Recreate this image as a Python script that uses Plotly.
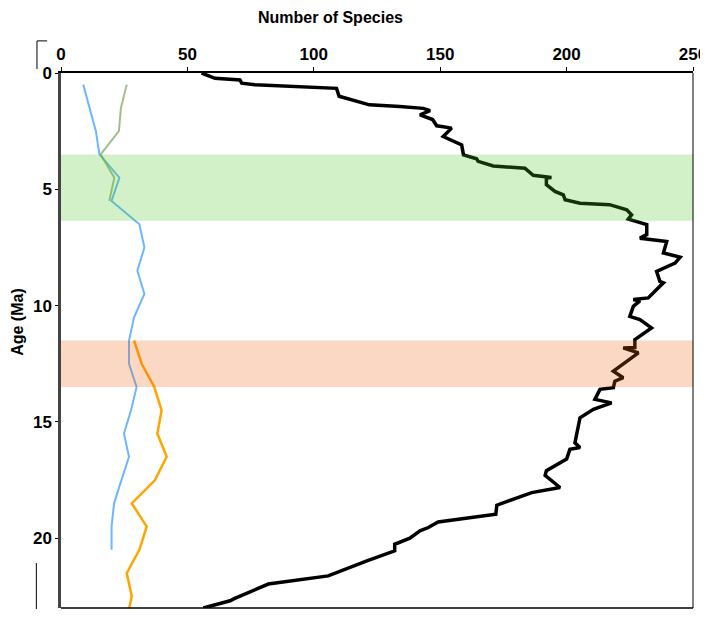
import plotly.graph_objects as go

# Total species (black)
total_age = [0.0, 0.23, 0.3, 0.44, 0.5, 0.66, 1.0, 1.16, 1.37, 1.44, 1.52, 1.62, 1.8, 2.0, 2.27, 2.3,
             2.37, 2.73, 2.95, 3.09, 3.52, 3.59, 3.69, 3.8, 4.0, 4.09, 4.4, 4.49, 4.52, 4.8, 5.09,
             5.24, 5.45, 5.6, 5.66, 5.88, 6.1, 6.28, 6.52, 6.95, 7.1, 7.24, 7.74, 7.88, 7.92, 8.17,
             8.53, 8.96, 9.02, 9.31, 9.67, 9.74, 9.8, 10.03, 10.46, 10.6, 10.96, 11.46, 11.8, 11.82,
             12.03, 12.82, 13.1, 13.25, 13.53, 13.6, 14.03, 14.18, 14.46, 14.82, 15.9, 16.1, 16.18,
             16.6, 17.1, 17.3, 17.82, 18.04, 18.58, 18.97, 19.0, 19.3, 19.54, 19.68, 20.0, 20.26,
             20.54, 20.97, 21.62, 21.97, 22.6, 22.69, 23.0]
total_val = [55.6, 60.9, 70.8, 71.5, 76.7, 109.0, 110.0, 115.5, 122.0, 134.0, 143.3, 146.0, 142.0,
             147.0, 148.6, 150.6, 154.5, 151.2, 155.2, 158.5, 159.2, 161.8, 164.4, 165.0, 171.0,
             183.5, 186.8, 194.0, 192.0, 192.0, 195.4, 198.7, 199.4, 205.3, 217.0, 223.8, 225.7,
             224.4, 231.7, 231.7, 229.0, 239.6, 238.3, 243.5, 244.9, 242.9, 235.6, 236.9, 238.3,
             235.6, 232.3, 226.4, 229.0, 226.4, 225.0, 229.0, 233.6, 227.0, 227.0, 222.4, 228.4,
             218.5, 222.4, 219.1, 218.5, 213.2, 211.2, 217.8, 210.6, 205.3, 203.3, 205.3, 201.3,
             200.0, 192.0, 191.5, 197.4, 186.2, 172.4, 172.0, 170.0, 149.2, 145.3, 142.0, 138.0,
             132.0, 132.0, 121.0, 105.7, 82.0, 68.5, 66.9, 56.3]

# Blue series
blue_age = [0.5, 1.9, 2.5, 3.5, 4.5, 5.5, 6.5, 7.5, 8.5, 9.5, 10.5, 11.5, 12.5, 13.5, 14.5, 15.5,
            16.5, 17.5, 18.5, 19.5, 20.5]
blue_val = [8.8, 12.1, 13.8, 15.2, 23.1, 20.0, 31.0, 33.0, 30.2, 33.0, 28.9, 26.9, 26.9, 29.9,
            27.7, 24.9, 26.9, 23.9, 21.0, 20.0, 20.0]

# Green series
green_age = [0.5, 1.5, 2.5, 3.5, 4.5, 5.5]
green_val = [26.0, 23.7, 22.9, 15.7, 21.1, 19.1]

# Orange series
orange_age = [11.5, 12.5, 13.5, 14.5, 15.5, 16.5, 17.5, 18.5, 19.5, 20.5, 21.5, 22.5, 23.5]
orange_val = [28.9, 31.9, 36.9, 39.8, 38.1, 41.8, 37.2, 28.0, 33.9, 31.0, 26.0, 28.0, 26.0]

# Highlighted age bands
band_ranges = [(3.5, 6.35), (11.5, 13.5)]
band_colors = ["rgb(80,200,40)", "rgb(240,100,20)"]

x_ticks = [0, 50, 100, 150, 200, 250]
y_ticks = [0, 5, 10, 15, 20]

fig = go.Figure()
fig.add_trace(go.Scatter(x=blue_val, y=blue_age, mode="lines",
                         line=dict(color="rgb(110,182,255)", width=2), showlegend=False))
fig.add_trace(go.Scatter(x=green_val, y=green_age, mode="lines",
                         line=dict(color="rgba(130,170,100,0.75)", width=2), showlegend=False))
fig.add_trace(go.Scatter(x=orange_val, y=orange_age, mode="lines",
                         line=dict(color="rgb(255,165,0)", width=2.5), showlegend=False))
fig.add_trace(go.Scatter(x=total_val, y=total_age, mode="lines",
                         line=dict(color="black", width=3.5), showlegend=False))

for (a0, a1), c in zip(band_ranges, band_colors):
    fig.add_shape(type="rect", xref="paper", yref="y", x0=0, x1=1, y0=a0, y1=a1,
                  fillcolor=c, opacity=0.25, line_width=0, layer="above")

# frame lines
fig.add_shape(type="line", xref="paper", yref="paper", x0=1, x1=1, y0=0, y1=1,
              line=dict(color="black", width=1))
fig.add_shape(type="line", xref="paper", yref="paper", x0=0, x1=1, y0=0, y1=0,
              line=dict(color="black", width=1.5))
# small decorations at left
fig.add_shape(type="line", xref="paper", yref="paper", x0=-0.038, x1=-0.038, y0=1.0075, y1=1.06,
              line=dict(color="black", width=1))
fig.add_shape(type="line", xref="paper", yref="paper", x0=-0.038, x1=-0.022, y0=1.06, y1=1.06,
              line=dict(color="black", width=1))
fig.add_shape(type="line", xref="paper", yref="paper", x0=-0.039, x1=-0.039, y0=-0.002, y1=0.084,
              line=dict(color="black", width=1))

font = dict(family="Liberation Sans, Arial, sans-serif", size=16, color="black")
bold_font = dict(family="Liberation Sans, Arial, sans-serif", size=17, color="black")

fig.update_layout(
    width=708, height=601,
    margin=dict(l=53, r=23, t=65, b=1, autoexpand=False),
    paper_bgcolor="white", plot_bgcolor="white",
    font=font,
    xaxis=dict(range=[0, 250], side="top", tickvals=x_ticks,
               ticktext=[f"<b>{v}</b>" for v in x_ticks], automargin=False,
               showgrid=False, zeroline=False, showline=True, linecolor="black", linewidth=1.5,
               ticks="outside", ticklen=4, tickcolor="black", tickfont=bold_font),
    yaxis=dict(range=[23, 0], tickvals=y_ticks,
               ticktext=[f"<b>{v}</b>" for v in y_ticks], automargin=False,
               showgrid=False, zeroline=False, showline=True, linecolor="#444444", linewidth=2.5,
               ticks="outside", ticklen=3, tickcolor="black", tickfont=bold_font),
    annotations=[
        dict(text="<b>Number of Species</b>", xref="paper", yref="paper", x=0.427, y=1.103,
             showarrow=False, font=dict(family="Liberation Sans, Arial, sans-serif", size=16,
                                        color="black"),
             xanchor="center", yanchor="middle"),
        dict(text="<b>Age (Ma)</b>", xref="paper", yref="paper", x=-0.068, y=0.535,
             showarrow=False, font=dict(family="Liberation Sans, Arial, sans-serif", size=16,
                                        color="black"),
             textangle=-90, xanchor="center", yanchor="middle"),
    ],
)

fig.write_html("out.html")
